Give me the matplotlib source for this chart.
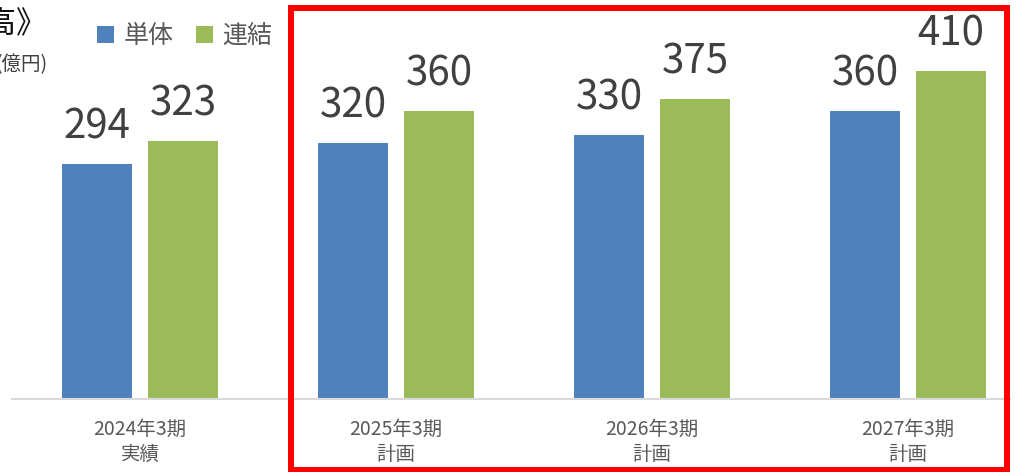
import numpy as np
import matplotlib.pyplot as plt
from matplotlib.patches import Rectangle

plt.rcParams['font.family'] = ['Noto Sans CJK JP', 'DejaVu Sans']

# 売上高（億円）
periods = ['2024年3期\n実績', '2025年3期\n計画', '2026年3期\n計画', '2027年3期\n計画']
tandoku = [294, 320, 330, 360]
renketsu = [323, 360, 375, 410]
series_names = ['単体', '連結']

blue = '#4f81bd'
green = '#9bbb59'

W, H = 1020, 472
fig = plt.figure(figsize=(W / 100, H / 100), dpi=100)
base_y = 399
ax = fig.add_axes([12 / W, (H - base_y) / H, 998 / W, base_y / H])

x = np.arange(len(periods))
bw = 0.277
off = 0.168
b1 = ax.bar(x - off, tandoku, bw, color=blue, label=series_names[0])
b2 = ax.bar(x + off, renketsu, bw, color=green, label=series_names[1])

for bars, vals in ((b1, tandoku), (b2, renketsu)):
    for rect, v in zip(bars, vals):
        ax.annotate(str(v), (rect.get_x() + rect.get_width() / 2, v),
                    xytext=(0, 18), textcoords='offset points',
                    ha='center', va='baseline', fontsize=29, color='#404040')

ax.set_xlim(-0.5, -0.5 + 998 / 256)
ax.set_ylim(0, base_y / 0.8)
ax.set_xticks(x)
ax.set_xticklabels(periods, fontsize=14, color='#595959', linespacing=1.3)
ax.tick_params(axis='x', length=0, pad=14)
ax.set_yticks([])
for s in ['top', 'right', 'left']:
    ax.spines[s].set_visible(False)
ax.spines['bottom'].set_color('#d9d9d9')
ax.spines['bottom'].set_linewidth(1.5)

leg = ax.legend(loc='center left', bbox_to_anchor=(97 / W, 1 - 36 / H),
                bbox_transform=fig.transFigure, ncol=2, frameon=False,
                fontsize=18, handlelength=0.7, handleheight=0.7,
                handletextpad=0.35, columnspacing=0.9, borderpad=0,
                borderaxespad=0)
for t in leg.get_texts():
    t.set_color('#595959')

# タイトルと単位（左端は切れている）
fig.text(47 / W, 1 - 33 / H, '《売上高》', ha='right', va='baseline',
         fontsize=22, color='#111111')
fig.text(47 / W, 1 - 70 / H, '(億円)', ha='right', va='baseline',
         fontsize=14, color='#404040')

# 計画期間の赤枠
fig.add_artist(Rectangle((291 / W, 1 - 470 / H), 716 / W, 462 / H,
                         transform=fig.transFigure, fill=False,
                         edgecolor='#ff0000', linewidth=4.3))

fig.savefig('out.png', dpi=100)
